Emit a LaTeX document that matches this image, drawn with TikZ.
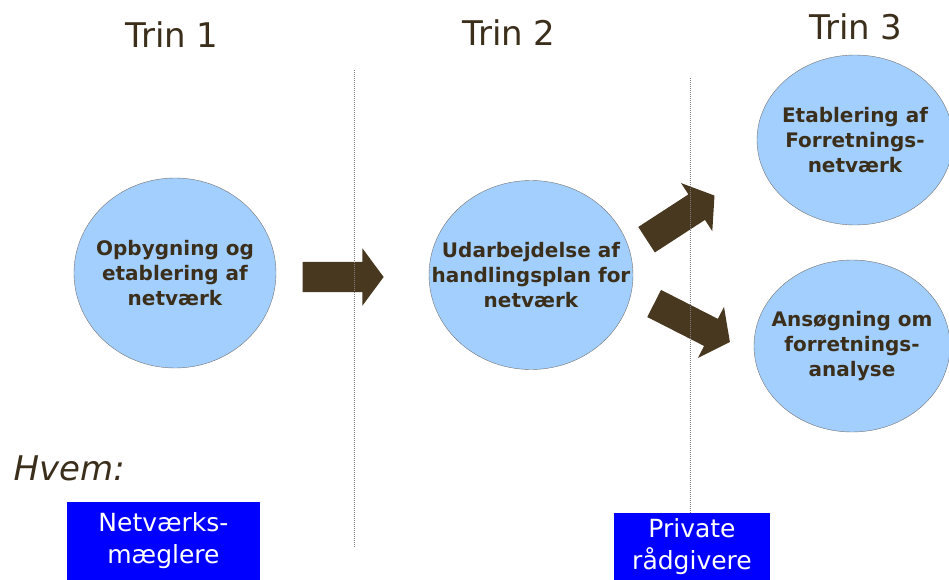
\documentclass[tikz,border=0pt]{standalone}
\usepackage{fontspec}
\setmainfont{DejaVu Sans}
\usetikzlibrary{shapes.geometric,shapes.arrows,positioning}
\definecolor{bubblec}{HTML}{A3CFFF}
\definecolor{arrowc}{HTML}{47381F}
\definecolor{txtc}{HTML}{3B2F1C}
\begin{document}
\begin{tikzpicture}[x=1pt,y=-1pt,
   trin/.style={font=\fontsize{34}{40}\selectfont,text=txtc,anchor=base},
   bubble/.style={ellipse,draw=gray!90!black,fill=bubblec,inner sep=0pt},
   btext/.style={align=center,inner sep=0pt,text=txtc,
      font=\bfseries\fontsize{20}{25}\selectfont},
   pil/.style={single arrow,fill=arrowc,inner xsep=0pt,inner ysep=15pt,
      single arrow head extend=13.5pt,single arrow tip angle=107,
      single arrow head indent=0pt},
   who/.style={rectangle,fill=blue,text=white,align=center,inner sep=0pt,
      font=\fontsize{25}{32}\selectfont},
   sep/.style={draw=gray,line width=1pt,dash pattern=on 1pt off 1pt}]
   \useasboundingbox (0,0) rectangle (949,580);
   % headings
   \node[trin] (t_1) at (172,48) {Trin 1};
   \node[trin] (t_2) at (509,46) {Trin 2};
   \node[trin] (t_3) at (856,40) {Trin 3};
   % separators
   \coordinate (d_1) at (354,70);
   \coordinate (d_2) at (690,78);
   % steps
   \node[bubble,minimum width=202pt,minimum height=190pt] (s_1)  at (175,273) {};
   \node[bubble,minimum width=204pt,minimum height=189pt] (s_2)  at (531,275) {};
   \node[bubble,minimum width=196pt,minimum height=170pt] (s_3a) at (855,140) {};
   \node[bubble,minimum width=196pt,minimum height=172pt] (s_3b) at (852,346) {};
   \node[btext] at (s_1)  {Opbygning og\\etablering af\\netværk};
   \node[btext] at (s_2)  {Udarbejdelse af\\handlingsplan for\\netværk};
   \node[btext] at (s_3a) {Etablering af\\Forretnings-\\netværk};
   \node[btext] at (s_3b) {Ansøgning om\\forretnings-\\analyse};
   % arrows
   \node[pil,minimum height=81pt]            (p_1)  at (337.5,277) {};
   \node[pil,minimum height=81pt,rotate=33]  (p_2a) at (675.8,220.7) {};
   \node[pil,minimum height=85pt,rotate=-27] (p_2b) at (687,320.2) {};
   % who
   \node[font=\itshape\fontsize{34}{40}\selectfont,text=txtc,anchor=base west]
      (h) at (10,480) {Hvem:};
   \node[who,minimum width=193pt,minimum height=78pt] (w_1) at (163.5,541)
      {Netværks-\\mæglere};
   \node[who,minimum width=156pt,minimum height=67pt] (w_2) at (692,546.5)
      {Private\\rådgivere};
   \coordinate (d_1b) at (354,548);
   \draw[sep] (d_1) -- (d_1b);
   \draw[sep] (d_2) -- (d_2 |- w_2.north);
\end{tikzpicture}
\end{document}
